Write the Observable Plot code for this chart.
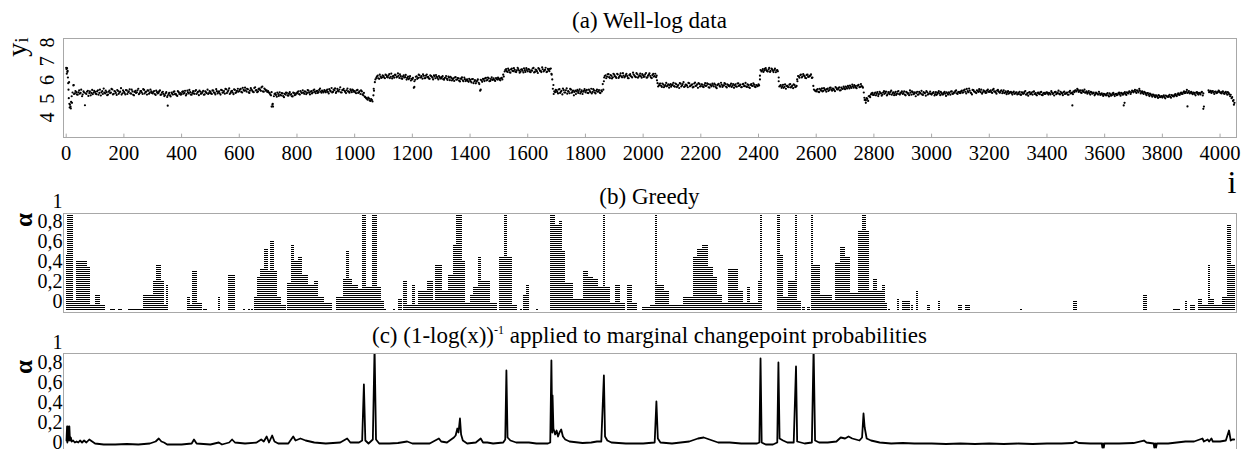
<!DOCTYPE html>
<html><head><meta charset="utf-8">
<script src="https://cdn.jsdelivr.net/npm/d3@7"></script>
<script src="https://cdn.jsdelivr.net/npm/@observablehq/plot@0.6"></script>
<style>
body{margin:0;background:#fff;font-family:"Liberation Serif","Times New Roman",serif;color:#000;}
#fig{position:relative;width:1244px;height:449px;overflow:hidden;background:#fff;}
.panel{position:absolute;left:0;}
.ttl{position:absolute;left:63px;width:1173px;text-align:center;font-size:23px;line-height:1;white-space:nowrap;}
.rot{position:absolute;transform:translate(-50%,-50%) rotate(-90deg);line-height:1;white-space:nowrap;}
</style></head>
<body><div id="fig">
<div class="ttl" style="top:9px">(a) Well-log data</div>
<div class="ttl" style="top:185px">(b) Greedy</div>
<div class="ttl" style="top:324px">(c) (1-log(x))<sup style="font-size:12px;vertical-align:9px">-1</sup> applied to marginal changepoint probabilities</div>
<div class="rot" style="left:17px;top:47px;font-size:28px">y<sub style="font-size:19px;vertical-align:-2px">i</sub></div>
<div class="rot" style="left:23px;top:220px;font-size:25px;font-weight:bold">α</div>
<div class="rot" style="left:23px;top:367px;font-size:25px;font-weight:bold">α</div>
<div style="position:absolute;left:1222px;top:166px;width:20px;text-align:center;font-size:32px;line-height:1">i</div>
</div>
<script>
// ---------- data ----------
// (a) well-log readings, one every 5 samples, first series at i = 0, 5, 10, ...
const wellStep = 5;
const wellLog = [
6.92,6.75,6.15,4.85,5.05,5.98,5.55,5.62,5.48,5.71,5.58,5.40,5.66,4.92,5.52,5.69,5.57,5.45,5.74,5.60,
5.63,5.51,5.72,5.58,5.44,5.67,5.81,5.55,5.62,5.49,5.70,5.59,5.76,5.53,5.65,5.47,5.68,5.60,5.83,5.56,
5.64,5.50,5.71,5.62,5.77,5.54,5.66,5.45,5.69,5.61,5.80,5.57,5.68,5.52,5.74,5.63,5.49,5.70,5.59,5.66,
5.55,5.68,5.47,5.62,5.58,5.71,5.50,5.64,5.41,5.56,5.36,5.52,5.45,5.60,5.49,5.66,5.53,5.42,5.62,5.57,
5.51,5.66,5.58,5.44,5.70,5.55,5.62,5.48,5.67,5.53,5.73,5.59,5.46,5.64,5.56,5.69,5.50,5.61,5.75,5.57,
5.63,5.52,5.70,5.58,5.78,5.55,5.66,5.49,5.72,5.61,5.54,5.77,5.64,5.82,5.58,5.69,5.51,5.74,5.62,5.80,
5.68,5.79,5.60,5.74,5.86,5.65,5.77,5.58,5.83,5.70,5.62,5.88,5.73,5.66,5.81,5.69,5.92,5.64,5.76,5.71,
5.67,5.58,5.45,4.95,5.40,5.56,5.38,5.52,5.61,5.44,5.55,5.35,5.49,5.58,5.43,5.62,5.51,5.39,5.57,5.48,
5.55,5.66,5.49,5.61,5.72,5.53,5.64,5.58,5.70,5.50,5.67,5.60,5.76,5.56,5.69,5.62,5.81,5.59,5.66,5.73,
5.61,5.75,5.55,5.70,5.84,5.63,5.72,5.58,5.79,5.66,5.88,5.60,5.74,5.69,5.57,5.81,5.65,5.77,5.62,5.71,
5.68,5.56,5.74,5.61,5.52,5.66,5.45,5.38,5.30,5.22,5.28,5.15,5.20,5.45,6.15,6.38,6.50,6.33,6.45,6.41,
6.47,6.36,6.52,6.40,6.58,6.44,6.35,6.49,6.55,6.41,6.62,6.38,6.47,6.33,6.51,6.42,6.29,6.45,6.37,6.24,
6.30,5.85,6.28,6.46,6.38,6.52,6.41,6.34,6.49,6.37,6.56,6.43,6.33,6.48,6.39,6.51,6.36,6.44,6.30,6.42,
6.35,6.47,6.28,6.40,6.33,6.45,6.26,6.38,6.31,6.22,6.42,6.29,6.36,6.19,6.33,6.25,6.40,6.21,6.30,6.17,
6.27,6.14,6.32,6.20,6.09,6.23,6.12,5.70,6.24,6.33,6.21,6.38,6.27,6.35,6.22,6.41,6.30,6.26,6.37,6.29,
6.34,6.25,6.38,6.55,6.72,6.85,6.70,6.79,6.66,6.88,6.74,6.81,6.69,6.92,6.77,6.71,6.84,6.67,6.79,6.90,
6.73,6.82,6.68,6.76,6.91,6.70,6.80,6.64,6.85,6.75,6.94,6.72,6.81,6.69,6.86,6.74,6.88,6.30,5.52,5.62,
5.71,5.55,5.78,5.64,5.50,5.73,5.60,5.82,5.67,5.56,5.75,5.62,5.45,5.70,5.66,5.58,5.77,5.63,5.52,5.69,
5.61,5.74,5.57,5.68,5.80,5.63,5.71,5.55,5.76,5.66,5.59,5.72,6.05,6.40,6.52,6.44,6.58,6.37,6.49,6.41,
6.55,6.43,6.60,6.38,6.51,6.46,6.63,6.40,6.53,6.47,6.36,6.58,6.44,6.66,6.50,6.42,6.57,6.45,6.61,6.39,
6.52,6.46,6.64,6.41,6.55,6.48,6.37,6.59,6.47,6.42,6.10,5.98,6.08,5.90,6.02,5.94,6.11,5.97,5.86,6.05,
5.99,6.12,5.91,6.04,5.95,5.84,6.07,5.98,6.15,5.93,6.01,5.88,6.09,5.96,6.03,5.90,6.13,5.97,5.85,6.06,
5.94,6.02,5.89,6.10,5.97,6.05,5.86,5.99,6.08,5.92,6.01,5.83,6.04,5.95,6.12,5.90,5.98,6.06,5.87,6.00,
5.93,6.07,5.96,5.85,6.03,5.91,6.09,5.98,5.88,6.04,5.94,6.11,5.90,5.99,5.84,6.05,5.95,6.02,5.89,5.97,
6.03,6.30,6.72,6.85,6.78,6.90,6.74,6.83,6.70,6.88,6.76,6.81,6.68,6.79,6.40,5.95,5.85,6.01,5.90,5.80,
5.96,5.88,6.05,5.92,5.83,6.00,5.91,6.20,6.45,6.53,6.40,6.58,6.47,6.36,6.55,6.44,6.50,6.38,5.95,5.72,
5.66,5.78,5.62,5.74,5.82,5.69,5.77,5.64,5.81,5.73,5.86,5.70,5.79,5.67,5.84,5.76,5.88,5.72,5.80,5.91,
5.78,5.87,5.95,5.82,5.90,6.02,5.86,5.94,5.83,5.97,5.88,6.05,5.91,5.60,5.22,5.30,5.15,5.42,5.50,5.58,
5.47,5.60,5.53,5.41,5.64,5.55,5.49,5.67,5.58,5.44,5.62,5.51,5.70,5.56,5.46,5.63,5.53,5.68,5.49,5.59,
5.52,5.66,5.45,5.60,5.55,5.71,5.48,5.62,5.54,5.40,5.64,5.50,5.58,5.69,5.47,5.56,5.43,5.61,5.52,5.65,
5.49,5.58,5.44,5.62,5.53,5.67,5.46,5.57,5.50,5.63,5.42,5.55,5.61,5.48,5.66,5.54,5.59,5.71,5.52,5.64,
5.57,5.70,5.61,5.76,5.55,5.68,5.81,5.60,5.50,5.73,5.64,5.57,5.69,5.78,5.62,5.54,5.72,5.66,5.59,5.75,
5.63,5.71,5.58,5.79,5.66,5.54,5.74,5.61,5.68,5.56,5.72,5.60,5.51,5.67,5.58,5.63,5.49,5.65,5.55,5.61,
5.52,5.64,5.47,5.59,5.55,5.68,5.50,5.43,5.62,5.54,5.48,5.66,5.57,5.45,5.60,5.51,5.63,5.46,5.58,5.53,
5.61,5.49,5.56,5.67,5.52,5.44,5.63,5.55,5.70,5.50,5.58,5.46,5.65,5.54,5.60,5.48,5.69,5.57,5.51,5.62,
5.72,5.80,5.63,5.71,5.58,5.67,5.75,5.60,5.54,5.68,5.49,5.61,5.56,5.45,5.59,5.52,5.64,5.47,5.55,5.42,
5.51,5.44,5.57,5.39,5.50,5.46,5.58,5.41,5.53,5.48,5.60,5.43,5.55,5.50,5.62,5.47,5.58,5.66,5.52,5.70,
5.61,5.74,5.58,5.68,5.79,5.55,5.66,5.52,5.60,5.46,5.57,5.41,5.50,5.38,5.47,5.35,5.44,5.31,5.42,5.37,
5.33,5.45,5.29,5.40,5.36,5.48,5.32,5.43,5.39,5.51,5.41,5.55,5.47,5.60,5.52,5.66,5.58,5.74,5.62,5.55,
5.64,5.51,5.58,5.45,5.62,5.49,5.56,5.60,5.44,null,null,null,5.71,5.63,5.58,5.68,5.52,5.65,5.59,5.70,
5.61,5.55,5.66,5.52,5.63,5.48,5.57,5.40,5.30,5.15,5.05
];
// second series of readings, in between: i = 2, 7, 12, ...
const wellLogB = [
6.60,6.10,4.80,5.10,5.60,5.52,5.68,5.50,5.61,5.54,5.75,5.49,5.60,5.56,5.64,5.42,5.66,5.58,5.51,5.69,
5.54,5.66,5.48,5.75,5.61,5.52,5.59,5.70,5.46,5.64,5.57,5.79,5.50,5.68,5.58,5.73,5.53,5.65,5.49,5.71,
5.58,5.73,5.52,5.66,5.56,5.75,5.48,5.63,5.58,5.72,5.51,5.67,5.60,5.78,5.55,5.64,5.71,5.53,5.76,5.58,
5.63,5.52,5.70,5.55,5.66,5.47,5.60,5.53,5.46,5.62,5.44,5.58,5.39,5.54,5.63,5.51,5.46,5.67,5.52,5.48,
5.63,5.54,5.69,5.51,5.61,5.74,5.49,5.58,5.55,5.68,5.52,5.64,5.70,5.53,5.62,5.48,5.66,5.57,5.52,5.68,
5.55,5.71,5.60,5.50,5.67,5.63,5.56,5.74,5.59,5.68,5.79,5.57,5.71,5.52,5.66,5.60,5.77,5.58,5.69,5.64,
5.75,5.63,5.85,5.69,5.72,5.80,5.61,5.70,5.76,5.64,5.84,5.71,5.62,5.79,5.74,5.87,5.66,5.81,5.70,5.63,
5.60,5.50,5.62,4.85,5.52,5.47,5.60,5.42,5.48,5.57,5.41,5.53,5.60,5.45,5.54,5.48,5.40,5.59,5.46,5.55,
5.62,5.52,5.68,5.57,5.60,5.66,5.51,5.73,5.59,5.64,5.55,5.71,5.63,5.67,5.58,5.74,5.65,5.70,5.60,5.67,
5.70,5.63,5.78,5.66,5.60,5.75,5.82,5.64,5.69,5.76,5.61,5.73,5.80,5.63,5.72,5.66,5.59,5.70,5.75,5.64,
5.61,5.71,5.58,5.66,5.72,5.50,5.58,5.35,5.27,5.33,5.18,5.25,5.12,5.70,6.30,6.45,6.36,6.55,6.38,6.52,
6.40,6.55,6.43,6.50,6.37,6.61,6.46,6.39,6.53,6.44,6.49,6.57,6.35,6.45,6.40,6.54,6.38,6.31,6.47,6.33,
6.38,6.20,6.44,6.33,6.55,6.40,6.47,6.57,6.36,6.50,6.42,6.35,6.52,6.44,6.30,6.46,6.53,6.38,6.48,6.35,
6.42,6.31,6.37,6.48,6.27,6.39,6.44,6.24,6.35,6.40,6.28,6.37,6.23,6.34,6.41,6.20,6.31,6.27,6.22,6.33,
6.20,6.31,6.10,6.26,6.18,6.30,6.05,6.28,6.17,6.29,6.35,6.24,6.40,6.20,6.32,6.27,6.36,6.22,6.33,6.39,
6.28,6.36,6.30,6.45,6.80,6.74,6.87,6.68,6.83,6.75,6.90,6.71,6.78,6.85,6.66,6.82,6.76,6.89,6.70,6.80,
6.85,6.71,6.78,6.88,6.67,6.82,6.73,6.90,6.76,6.69,6.84,6.77,6.92,6.71,6.80,6.86,6.60,5.80,5.66,5.74,
5.63,5.76,5.58,5.69,5.81,5.60,5.72,5.54,5.65,5.79,5.59,5.70,5.63,5.52,5.74,5.68,5.55,5.71,5.64,5.78,
5.69,5.58,5.75,5.62,5.55,5.78,5.60,5.69,5.64,5.73,5.57,5.66,5.75,6.48,6.36,6.57,6.42,6.53,6.35,6.60,
6.47,6.38,6.56,6.44,6.62,6.41,6.50,6.45,6.59,6.37,6.53,6.48,6.40,6.56,6.45,6.63,6.39,6.52,6.47,6.58,
6.43,6.57,6.39,6.50,6.62,6.40,6.53,6.45,6.60,6.50,5.92,6.06,5.96,6.08,5.88,6.00,5.93,6.04,5.99,5.91,
6.03,5.94,6.08,5.89,6.00,6.10,5.92,6.05,5.90,6.02,5.96,6.11,5.93,6.00,5.87,6.08,5.95,6.04,6.10,5.92,
6.04,5.91,6.00,5.95,6.09,5.88,6.03,5.93,6.00,6.07,5.89,5.99,6.06,5.91,6.02,5.97,6.10,5.92,6.03,5.95,
6.00,5.90,6.05,5.98,5.92,6.08,5.95,6.02,5.89,6.06,5.97,5.92,6.04,5.88,6.01,5.96,6.09,5.91,6.00,5.94,
5.98,6.80,6.77,6.70,6.86,6.79,6.72,6.91,6.75,6.84,6.69,6.87,6.77,6.73,5.92,6.00,5.93,5.85,6.03,5.95,
5.90,6.02,5.87,5.97,6.03,5.89,5.95,6.48,6.39,6.56,6.45,6.51,6.38,6.54,6.43,6.49,6.57,6.40,5.76,5.68,
5.74,5.64,5.80,5.70,5.66,5.83,5.72,5.78,5.68,5.85,5.75,5.81,5.73,5.89,5.77,5.83,5.71,5.86,5.79,5.84,
5.92,5.81,5.89,5.97,5.84,5.93,5.99,5.87,5.96,6.01,5.90,5.94,5.86,5.32,5.18,5.26,5.40,5.35,5.55,5.47,
5.56,5.45,5.62,5.51,5.57,5.43,5.60,5.53,5.65,5.50,5.57,5.63,5.48,5.61,5.55,5.47,5.64,5.52,5.58,5.66,
5.57,5.49,5.63,5.54,5.46,5.59,5.66,5.51,5.61,5.57,5.48,5.63,5.55,5.50,5.62,5.58,5.67,5.49,5.56,5.53,
5.55,5.62,5.51,5.47,5.60,5.55,5.63,5.50,5.58,5.54,5.61,5.49,5.57,5.65,5.53,5.60,5.67,5.56,5.62,5.58,
5.66,5.59,5.72,5.64,5.79,5.62,5.70,5.57,5.74,5.66,5.60,5.71,5.63,5.68,5.75,5.61,5.66,5.58,5.70,5.64,
5.68,5.62,5.74,5.65,5.60,5.70,5.66,5.59,5.72,5.63,5.57,5.66,5.61,5.54,5.62,5.57,5.60,5.53,5.59,5.50,
5.58,5.50,5.61,5.53,5.63,5.49,5.57,5.60,5.51,5.59,5.64,5.52,5.49,5.58,5.54,5.61,5.47,5.55,5.52,5.60,
5.55,5.58,5.50,5.60,5.56,5.62,5.51,5.59,5.53,5.64,5.55,5.61,5.52,5.58,5.49,5.63,5.55,5.60,5.66,5.70,
5.66,5.74,5.69,5.61,5.71,5.63,5.59,5.66,5.61,5.57,5.63,5.54,5.60,5.51,5.57,5.49,5.55,5.52,5.48,5.53,
5.47,5.52,5.45,5.55,5.43,5.54,5.49,5.52,5.46,5.56,5.51,5.58,5.49,5.57,5.53,5.61,5.55,5.63,5.60,5.66,
5.68,5.64,5.72,5.61,5.69,5.63,5.58,5.63,5.53,5.57,5.48,5.54,5.44,5.49,5.41,5.45,5.38,5.46,5.35,5.41,
5.40,5.35,5.44,5.38,5.42,5.37,5.46,5.40,5.47,5.44,5.50,5.48,5.55,5.53,5.60,5.57,5.64,5.58,5.68,5.60,
5.57,5.60,5.52,5.59,5.54,5.58,5.50,5.63,5.55,null,null,null,5.62,5.69,5.66,5.60,5.64,5.57,5.62,5.66,
5.58,5.63,5.56,5.60,5.55,5.62,5.50,5.48,5.35,5.20
];
const wellOffsetB = 2;
// (a) extra individual readings (start transient, outliers, jumps): [i, y]
const wellExtra = [
[1,6.85],[3,6.9],[4,6.7],[6,6.4],[8,5.75],[9,5.3],[11,5.0],[13,4.95],[16,4.75],
[19,5.4],[26,6.0],[352,4.9],[712,4.85],[716,5.0],[1066,5.8],[1207,5.9],[1437,5.75],
[1683,6.55],[1689,6.0],[1864,6.2],[2048,6.25],[2405,6.5],[2470,6.2],[2534,6.3],[2768,5.2],[2772,5.05],
[3488,4.91],[3666,4.91],[3669,5.05],[3887,4.86],[3942,4.73],[3944,4.85],[4048,4.95]
];
const wellTicksX = [0,200,400,600,800,1000,1200,1400,1600,1800,2000,2200,2400,2600,2800,3000,3200,3400,3600,3800,4000];
const wellTicksY = [4,5,6,7,8];

// (b) greedy: runs of changepoints [start i, end i, highest alpha kept]
const greedyRuns = [
[0,3,0.46],[3,24,0.85],[25,36,0.0],[36,74,0.39],[74,84,0.34],[84,102,-0.05],[102,119,0.06],[119,136,-0.05],
[154,171,-0.08],[181,195,-0.08],[216,268,-0.08],[268,303,0.06],[303,313,0.19],[313,330,0.36],[330,341,0.19],
[341,348,-0.05],[348,355,0.16],[421,431,0.04],[431,438,-0.05],[438,455,0.29],[455,473,-0.03],[476,490,-0.08],
[528,535,0.04],[563,587,0.26],[615,622,-0.08],[632,639,-0.08],[643,650,-0.08],[653,663,0.04],[663,674,0.23],
[674,688,0.31],[688,702,0.52],[702,708,0.29],[708,722,0.59],[722,733,0.29],[733,747,0.04],[747,764,-0.05],
[767,781,0.18],[781,792,0.56],[792,806,0.40],[806,819,0.44],[819,840,0.26],[840,861,0.16],[861,875,0.2],
[875,896,0.04],[896,923,-0.02],[937,962,0.04],[962,972,0.22],[972,982,0.49],[982,993,0.22],[993,1013,0.16],
[1013,1027,0.12],[1027,1041,0.86],[1041,1062,0.14],[1062,1079,0.86],[1079,1093,0.14],[1093,1104,0.0],
[1104,1111,-0.08],[1135,1142,-0.08],[1152,1166,0.02],[1170,1184,0.19],[1184,1200,-0.05],[1200,1211,0.16],
[1211,1222,-0.05],[1222,1253,0.09],[1253,1274,0.19],[1274,1281,0.0],[1281,1305,0.36],[1305,1326,0.09],
[1326,1344,0.26],[1344,1354,0.55],[1354,1374,0.86],[1374,1385,0.4],[1385,1402,-0.03],[1402,1412,0.05],
[1412,1430,0.14],[1430,1440,0.43],[1440,1458,0.19],[1458,1471,0.19],[1471,1495,-0.03],[1502,1520,0.43],
[1520,1530,0.86],[1530,1547,0.43],[1547,1565,-0.04],[1575,1582,-0.08],[1585,1596,0.05],[1596,1606,0.16],
[1631,1638,-0.08],[1679,1697,0.86],[1697,1710,0.75],[1710,1721,0.8],[1721,1731,0.5],[1731,1759,0.18],
[1759,1794,0.02],[1794,1811,0.29],[1811,1829,0.24],[1829,1846,0.22],[1846,1863,0.14],[1863,1870,0.86],
[1870,1887,0.14],[1887,1905,-0.02],[1905,1922,0.15],[1922,1939,-0.03],[1946,1963,0.15],[1963,1981,-0.03],
[1998,2026,-0.07],[2026,2043,-0.04],[2043,2050,0.86],[2050,2074,0.15],[2074,2092,0.09],[2092,2140,-0.04],
[2140,2175,0.04],[2175,2189,0.43],[2189,2206,0.51],[2206,2227,0.55],[2227,2244,0.34],[2244,2258,0.24],
[2258,2276,0.06],[2276,2296,-0.02],[2296,2331,0.32],[2331,2348,0.1],[2348,2362,-0.02],[2362,2373,0.14],
[2373,2401,-0.02],[2401,2407,0.19],[2407,2414,0.86],[2466,2477,0.86],[2477,2487,0.45],[2487,2504,0.04],
[2504,2528,0.2],[2528,2535,0.86],[2535,2549,0.0],[2553,2563,-0.06],[2570,2581,-0.06],[2585,2591,0.86],
[2591,2616,0.35],[2616,2657,0.06],[2657,2667,0.0],[2667,2685,0.37],[2685,2702,0.53],[2702,2720,0.43],
[2720,2747,0.08],[2747,2761,0.7],[2761,2775,0.86],[2775,2785,0.7],[2785,2799,0.1],[2799,2813,0.22],
[2813,2831,0.1],[2831,2841,0.16],[2841,2848,-0.02],[2852,2859,-0.08],[2883,2890,0.02],[2900,2928,-0.01],
[2931,2938,-0.04],[2948,2955,0.09],[2986,2997,-0.04],[3024,3031,-0.01],[3094,3108,-0.04],[3118,3136,-0.04],
[3309,3316,-0.08],[3493,3507,-0.01],[3733,3747,0.06],[3840,3864,-0.08],[3881,3888,-0.01],[3899,3916,-0.04],
[3926,3940,0.02],[3940,3961,-0.04],[3961,3968,0.35],[3968,3982,0.02],[3982,4009,-0.04],[4009,4027,0.04],
[4027,4041,0.76],[4041,4055,0.35]
];
const alphaTicks = [0,0.2,0.4,0.6,0.8,1];

// (c) transformed marginal changepoint probabilities: [i, alpha]
const margPoints = [
[1,0.02],[3,0.16],[4,0.0],[6,0.16],[8,0.02],[11,0.16],[13,0.02],[16,0.05],[19,0.01],[24,0.02],[30,0.0],
[36,0.01],[42,0.0],[48,0.02],[55,0.0],[62,0.02],[70,0.0],[80,0.03],[90,0.01],[100,-0.01],[130,-0.02],
[170,-0.02],[210,-0.015],[250,-0.02],[290,-0.01],[310,0.01],[321,0.04],[330,0.01],[339,0.0],[350,-0.02],
[400,-0.02],[435,-0.01],[443,0.03],[452,-0.01],[500,-0.02],[529,0.0],[540,-0.02],[565,0.0],[575,0.03],
[585,0.0],[620,-0.01],[660,0.0],[676,0.03],[685,0.01],[695,0.06],[703,0.0],[714,0.07],[722,0.01],[735,-0.01],
[770,-0.01],[787,0.06],[795,0.02],[812,0.04],[830,0.02],[860,0.0],[900,-0.01],[950,0.0],[974,0.04],[985,0.0],
[1015,0.0],[1026,0.02],[1032,0.58],[1037,0.02],[1048,-0.01],[1063,0.03],[1069,0.95],[1074,0.03],[1085,-0.01],
[1120,-0.01],[1150,-0.005],[1182,0.01],[1200,-0.01],[1260,-0.01],[1292,0.04],[1300,0.01],[1320,0.0],
[1344,0.05],[1350,0.07],[1356,0.14],[1360,0.1],[1365,0.24],[1369,0.08],[1375,0.02],[1390,-0.01],[1420,0.0],
[1437,0.04],[1445,0.0],[1460,0.0],[1480,-0.01],[1515,0.0],[1522,0.03],[1526,0.72],[1530,0.05],[1540,0.02],
[1560,0.0],[1604,0.0],[1630,-0.01],[1670,-0.01],[1678,0.0],[1682,0.82],[1685,0.1],[1686,0.47],[1689,0.14],
[1695,0.08],[1700,0.12],[1705,0.06],[1710,0.1],[1716,0.13],[1722,0.06],[1730,0.03],[1745,0.01],[1790,-0.005],
[1820,0.0],[1840,0.01],[1855,0.01],[1864,0.67],[1868,0.06],[1876,0.02],[1890,0.0],[1940,-0.01],[2000,-0.01],
[2040,0.0],[2046,0.41],[2051,0.04],[2060,0.0],[2100,-0.01],[2160,0.01],[2190,0.04],[2210,0.05],[2230,0.03],
[2260,0.0],[2300,0.0],[2340,-0.01],[2395,-0.01],[2403,0.0],[2407,0.84],[2411,0.0],[2425,-0.02],[2450,-0.02],
[2465,0.0],[2469,0.80],[2473,0.04],[2485,0.02],[2500,0.0],[2522,0.0],[2530,0.76],[2534,0.01],[2560,-0.01],
[2585,0.0],[2591,0.95],[2596,0.02],[2610,0.0],[2640,0.0],[2670,0.01],[2685,0.05],[2700,0.04],[2712,0.06],
[2725,0.04],[2750,0.02],[2759,0.05],[2764,0.29],[2768,0.15],[2775,0.04],[2790,0.02],[2820,0.0],[2860,-0.01],
[2900,-0.005],[2940,-0.01],[3000,-0.01],[3050,-0.015],[3100,-0.01],[3150,-0.015],[3200,-0.01],[3250,-0.015],
[3300,-0.01],[3350,-0.015],[3400,-0.01],[3450,-0.01],[3490,-0.005],[3500,0.01],[3510,-0.005],[3550,-0.01],
[3590,-0.01],[3592,-0.05],[3594,-0.01],[3597,-0.05],[3599,-0.01],[3650,-0.01],[3700,-0.005],[3736,0.02],
[3745,0.0],[3770,-0.01],[3772,-0.05],[3775,-0.01],[3778,-0.05],[3781,-0.01],[3820,-0.01],[3850,0.0],
[3880,0.01],[3910,0.01],[3939,0.04],[3944,0.01],[3957,0.03],[3962,0.01],[3970,0.04],[3975,0.01],[4000,0.01],
[4020,0.02],[4031,0.12],[4037,0.02],[4043,0.03],[4049,0.03]
];

// ---------- drawing ----------
const W = 1244, ML = 63, MR = 8;
const xDomain = [-9.36, 4057];
const FONT = "'Liberation Serif', 'Times New Roman', serif";
const FRAME = "#a8a8a8";
const commaFmt = d => String(d).replace(".", ",");

const wellData = [];
wellLog.forEach((v, k) => { if (v != null) wellData.push({i: k * wellStep, y: v}); });
wellLogB.forEach((v, k) => { if (v != null) wellData.push({i: wellOffsetB + k * wellStep, y: v}); });
wellExtra.forEach(([i, y]) => wellData.push({i, y}));

const fig = document.getElementById("fig");
function place(svg, top) {
  svg.classList.add("panel");
  svg.style.top = top + "px";
  fig.insertBefore(svg, fig.firstChild);
}

// Panel (a)
const pa = Plot.plot({
  width: W, height: 165, marginLeft: ML, marginRight: MR, marginTop: 38, marginBottom: 28,
  x: {domain: xDomain, axis: null},
  y: {domain: [3.2, 8.48], axis: null},
  style: {fontFamily: FONT, background: "transparent", overflow: "visible"},
  marks: [
    Plot.ruleX(wellTicksX, {x: d => d, y1: 3.2, y2: 3.38, stroke: FRAME}),
    Plot.text(wellTicksX, {x: d => d, frameAnchor: "bottom", lineAnchor: "top", dy: 8, text: d => String(d), fontSize: 20.5}),
    Plot.text(wellTicksY, {y: d => d, frameAnchor: "left", dx: -16, rotate: -90, text: d => String(d), fontSize: 20}),
    Plot.dot(wellData, {x: "i", y: "y", r: 1.1, fill: "#000", stroke: "none"}),
    Plot.frame({stroke: FRAME})
  ]
});
place(pa, 0);

// Panel (b)
const stripes = d3.range(-7, 88, 2).map(k => k / 100);
const pb = Plot.plot({
  width: W, height: 130, marginLeft: ML, marginRight: MR, marginTop: 23, marginBottom: 8,
  x: {domain: xDomain, axis: null},
  y: {domain: [-0.11, 0.88], axis: null},
  style: {fontFamily: FONT, background: "transparent", overflow: "visible"},
  marks: [
    Plot.rect(greedyRuns, {x1: d => d[0], x2: d => d[1], y1: -0.09, y2: d => d[2] + 0.01, fill: "#000", shapeRendering: "crispEdges"}),
    Plot.ruleY(stripes, {y: d => d, stroke: "#fff", strokeWidth: 1, shapeRendering: "crispEdges"}),
    Plot.text(alphaTicks, {y: d => d, frameAnchor: "left", dx: -1, textAnchor: "end", text: commaFmt, fontSize: 20}),
    Plot.frame({stroke: FRAME})
  ]
});
place(pb, 190);

// Panel (c)
const pc = Plot.plot({
  width: W, height: 130, marginLeft: ML, marginRight: MR, marginTop: 23, marginBottom: 8,
  x: {domain: xDomain, axis: null},
  y: {domain: [-0.10, 0.89], axis: null},
  style: {fontFamily: FONT, background: "transparent", overflow: "visible"},
  marks: [
    Plot.line(margPoints, {x: d => d[0], y: d => d[1], stroke: "#000", strokeWidth: 1.8, clip: true}),
    Plot.text(alphaTicks, {y: d => d, frameAnchor: "left", dx: -1, textAnchor: "end", text: commaFmt, fontSize: 20}),
    Plot.frame({stroke: FRAME})
  ]
});
place(pc, 330);
</script>
</body></html>
